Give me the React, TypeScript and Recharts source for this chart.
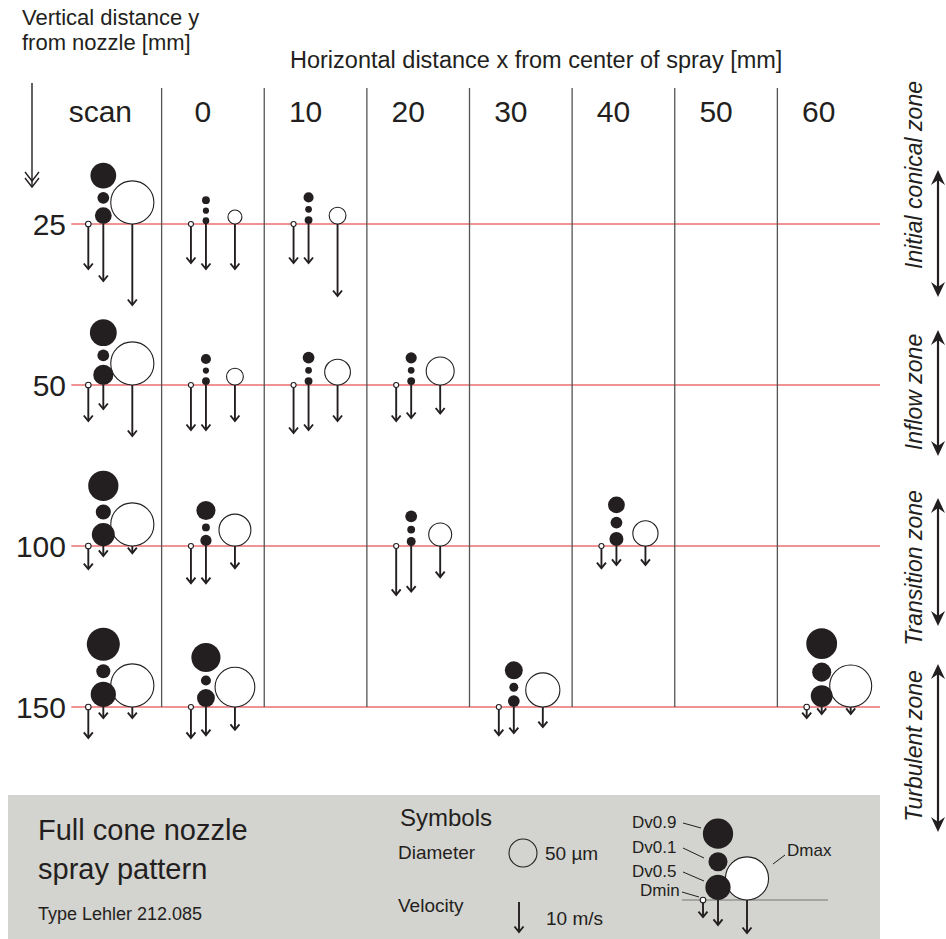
import React from "react";
import { ScatterChart, Scatter, XAxis, YAxis, ReferenceLine } from "recharts";

const columns = ["scan", "0", "10", "20", "30", "40", "50", "60"];
const rows = ["25", "50", "100", "150"];
const zones = ["Initial conical zone", "Inflow zone", "Transition zone", "Turbulent zone"];

// measured cells (row index, column index)
const cellRow = [0, 0, 0, 1, 1, 1, 1, 2, 2, 2, 2, 3, 3, 3, 3];
const cellCol = [0, 1, 2, 0, 1, 2, 3, 0, 1, 3, 5, 0, 1, 4, 7];

// droplet diameters [µm]
const dv09 = [46, 14, 18, 48, 18, 21, 20, 54, 34, 21, 30, 59, 52, 32, 55];
const dv01 = [21, 11, 12, 21, 11, 12, 12, 27, 14, 14, 21, 25, 18, 16, 34];
const dv05 = [30, 12, 14, 36, 14, 14, 14, 41, 20, 16, 25, 45, 32, 21, 39];
const dmax = [77, 25, 30, 77, 30, 46, 50, 77, 57, 41, 45, 77, 71, 61, 75];
const dmin = [10, 9, 9, 10, 9, 9, 9, 10, 9, 9, 9, 10, 9, 9, 10];

// droplet velocities [m/s]
const vMin = [15, 13, 13, 12, 15, 16, 12, 7.7, 12.4, 16.3, 7.4, 10.3, 10.3, 9.4, 3.7];
const vD05 = [19, 15, 13, 8, 15, 15, 11, 3.3, 12.4, 15.2, 6.3, 3.7, 9.4, 8.7, 2.3];
const vMax = [27, 15, 24, 17, 12, 12, 9.5, 2.4, 7.4, 10.4, 6.3, 3.7, 7.6, 6.7, 2.3];

// legend sample droplet set
const legendDiam = [54, 34, 45, 77, 10]; // Dv0.9, Dv0.1, Dv0.5, Dmax, Dmin
const legendVel = [5.7, 8.3, 11]; // Dmin, Dv0.5, Dmax

const cells = cellRow.map((row, i) => ({
  row,
  col: cellCol[i],
  dv09: dv09[i],
  dv01: dv01[i],
  dv05: dv05[i],
  dmax: dmax[i],
  dmin: dmin[i],
  vMin: vMin[i],
  vD05: vD05[i],
  vMax: vMax[i],
}));

const INK = "#231f20";
const FONT = "'Liberation Sans', Arial, Helvetica, sans-serif";
const UM = 0.56; // px per µm  (50 µm circle ~ 28 px)
const MS = 3; // px per m/s (10 m/s arrow ~ 30 px)
const GAP = 3.5;

function Arrow({ x, y1, y2 }: { x: number; y1: number; y2: number }) {
  return (
    <g>
      <line x1={x} y1={y1} x2={x} y2={y2 - 1} stroke={INK} strokeWidth={1.9} />
      <polyline
        points={`${x - 4.5},${y2 - 5.5} ${x},${y2} ${x + 4.5},${y2 - 5.5}`}
        fill="none"
        stroke={INK}
        strokeWidth={1.9}
      />
    </g>
  )
}

function Glyph({ cx, cy, d }: any) {
  const sx = cx - 7
  const mx = cx - 22
  const xx = cx + 22
  const r09 = (d.dv09 * UM) / 2
  const r01 = (d.dv01 * UM) / 2
  const r05 = (d.dv05 * UM) / 2
  const rmax = (d.dmax * UM) / 2
  const rmin = (d.dmin * UM) / 2
  const y05 = cy - r05
  const y01 = cy - 2 * r05 - GAP - r01
  const y09 = y01 - r01 - GAP - r09
  return (
    <g>
      <circle cx={xx} cy={cy - rmax} r={rmax} fill="#fff" stroke={INK} strokeWidth={1.1} />
      <circle cx={sx} cy={y05} r={r05} fill={INK} />
      <circle cx={sx} cy={y01} r={r01} fill={INK} />
      <circle cx={sx} cy={y09} r={r09} fill={INK} />
      <circle cx={mx} cy={cy} r={rmin} fill="#fff" stroke={INK} strokeWidth={1.1} />
      <Arrow x={mx} y1={cy + rmin} y2={cy + d.vMin * MS} />
      <Arrow x={sx} y1={cy} y2={cy + d.vD05 * MS} />
      <Arrow x={xx} y1={cy} y2={cy + d.vMax * MS} />
    </g>
  )
}

const ColumnTick = ({ x, payload }: any) => (
  <text x={x - 10} y={122} textAnchor="middle" fontSize={30} fontFamily={FONT} fill={INK}>
    {columns[payload.value]}
  </text>
)

const RowTick = ({ y, payload }: any) => (
  <text x={66} y={y + 11} textAnchor="end" fontSize={30} fontFamily={FONT} fill={INK}>
    {rows[payload.value]}
  </text>
)

function ZoneArrow({ x, y1, y2 }: { x: number; y1: number; y2: number }) {
  return (
    <g>
      <line x1={x} y1={y1 + 8} x2={x} y2={y2 - 8} stroke={INK} strokeWidth={2.2} />
      <polygon points={`${x - 7},${y1 + 15} ${x},${y1} ${x + 7},${y1 + 15} ${x},${y1 + 10}`} fill={INK} />
      <polygon points={`${x - 7},${y2 - 15} ${x},${y2} ${x + 7},${y2 - 15} ${x},${y2 - 10}`} fill={INK} />
    </g>
  )
}

const zoneText = [175, 392, 568, 746]
const zoneSpan = [
  [170, 297],
  [330, 456],
  [498, 626],
  [664, 832],
]

function Overlay() {
  const ld = {
    dv09: legendDiam[0],
    dv01: legendDiam[1],
    dv05: legendDiam[2],
    dmax: legendDiam[3],
    dmin: legendDiam[4],
    vMin: legendVel[0],
    vD05: legendVel[1],
    vMax: legendVel[2],
  }
  return (
    <svg
      width={946}
      height={939}
      style={{ position: "absolute", left: 0, top: 0, pointerEvents: "none" }}
      fontFamily={FONT}
      fill={INK}
    >
      <text x={22} y={25} fontSize={22}>Vertical distance y</text>
      <text x={22} y={50} fontSize={22}>from nozzle [mm]</text>
      <text x={290} y={68} fontSize={23.5}>Horizontal distance x from center of spray [mm]</text>
      <line x1={32} y1={83} x2={32} y2={187} stroke={INK} strokeWidth={1.4} />
      <polyline points="25,172 32,181 39,172" fill="none" stroke={INK} strokeWidth={1.4} />
      <polyline points="25,178 32,187 39,178" fill="none" stroke={INK} strokeWidth={1.4} />

      {zones.map((z, i) => (
        <g key={z}>
          <text
            x={0}
            y={0}
            transform={`translate(922, ${zoneText[i]}) rotate(-90)`}
            textAnchor="middle"
            fontSize={23}
            fontStyle="italic"
          >
            {z}
          </text>
          <ZoneArrow x={938} y1={zoneSpan[i][0]} y2={zoneSpan[i][1]} />
        </g>
      ))}

      <rect x={8} y={795} width={872} height={144} fill="#d3d3cf" />
      <text x={38} y={840} fontSize={29}>Full cone nozzle</text>
      <text x={38} y={879} fontSize={29}>spray pattern</text>
      <text x={38} y={920} fontSize={18}>Type Lehler 212.085</text>

      <text x={400} y={826} fontSize={24}>Symbols</text>
      <text x={398} y={859} fontSize={19}>Diameter</text>
      <circle cx={523} cy={853} r={(50 * UM) / 2} fill="none" stroke={INK} strokeWidth={1.1} />
      <text x={545} y={860} fontSize={19}>50 µm</text>
      <text x={398} y={912} fontSize={19}>Velocity</text>
      <Arrow x={519} y1={902} y2={902 + 10 * MS} />
      <text x={546} y={925} fontSize={19}>10 m/s</text>

      <line x1={682} y1={900} x2={828} y2={900} stroke="#777" strokeWidth={1.2} />
      <Glyph cx={725} cy={900} d={ld} />
      <text x={632} y={828} fontSize={17}>Dv0.9</text>
      <text x={632} y={853} fontSize={17}>Dv0.1</text>
      <text x={632} y={877} fontSize={17}>Dv0.5</text>
      <text x={640} y={896} fontSize={17}>Dmin</text>
      <text x={787} y={856} fontSize={17}>Dmax</text>
      <line x1={683} y1={823} x2={701} y2={828} stroke={INK} strokeWidth={1} />
      <line x1={683} y1={848} x2={704} y2={858} stroke={INK} strokeWidth={1} />
      <line x1={683} y1={872} x2={704} y2={881} stroke={INK} strokeWidth={1} />
      <line x1={682} y1={892} x2={699} y2={897} stroke={INK} strokeWidth={1} />
      <line x1={773} y1={864} x2={785} y2={855} stroke={INK} strokeWidth={1} />
    </svg>
  )
}

export default function App() {
  return (
    <div style={{ position: "absolute", left: 0, top: 0, width: 946, height: 939, background: "#fff" }}>
      <ScatterChart width={946} height={939} margin={{ top: 33, right: 66, bottom: 232, left: 0 }}>
        <XAxis
          type="number"
          dataKey="col"
          orientation="top"
          domain={[-0.5, 7.5]}
          ticks={[0, 1, 2, 3, 4, 5, 6, 7]}
          height={30}
          axisLine={false}
          tickLine={false}
          tick={<ColumnTick />}
        />
        <YAxis
          type="number"
          dataKey="row"
          domain={[-1, 3]}
          reversed
          ticks={[0, 1, 2, 3]}
          width={59}
          axisLine={false}
          tickLine={false}
          tick={<RowTick />}
        />
        {rows.map((r, i) => (
          <ReferenceLine
            key={r}
            segment={[
              { x: -0.38, y: i },
              { x: 7.5, y: i },
            ]}
            stroke="#e0262b"
            strokeWidth={1}
          />
        ))}
        {columns.slice(1).map((c, i) => (
          <ReferenceLine
            key={c}
            segment={[
              { x: i + 0.5, y: -0.845 },
              { x: i + 0.5, y: 3 },
            ]}
            stroke="#555"
            strokeWidth={1.3}
          />
        ))}
        <Scatter
          data={cells}
          isAnimationActive={false}
          shape={(p: any) => <Glyph cx={p.cx} cy={p.cy} d={p.payload} />}
        />
      </ScatterChart>
      <Overlay />
    </div>
  )
}
